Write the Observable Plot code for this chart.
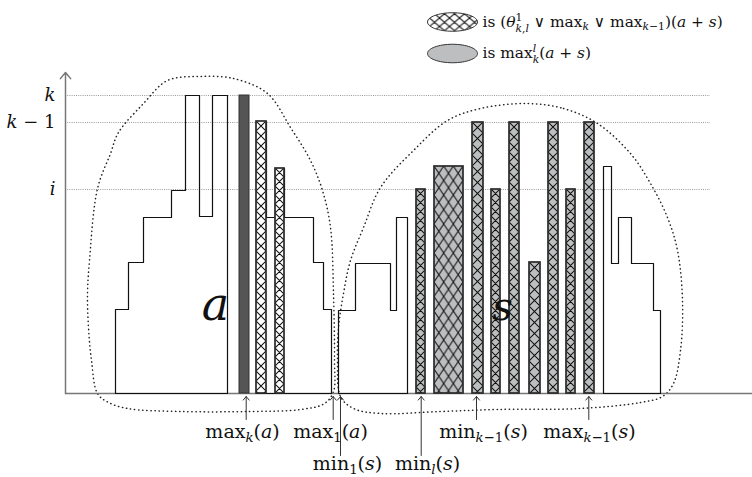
<!DOCTYPE html>
<html>
<head>
<meta charset="utf-8">
<script src="https://cdn.jsdelivr.net/npm/d3@7"></script>
<script src="https://cdn.jsdelivr.net/npm/@observablehq/plot@0.6"></script>
<style>
  html, body { margin: 0; padding: 0; background: #fff; }
  svg { display: block; }
</style>
</head>
<body>
<script>
// ---------- data (heights are measured above the baseline) ----------
const levelLabels = ["k", "k − 1", "i"];
const levelValues = [298, 271, 204];

// staircase outlines: start x of each step and the height of that step
const aLeftX  = [115, 128, 143, 171, 185, 199, 212, 227];
const aLeftH  = [84, 131, 176, 203, 298, 177, 298, 0];
const aRightX = [256, 266, 275, 284, 313, 323, 331];
const aRightH = [272, 176, 225, 176, 131, 84, 0];
const sLeftX  = [338, 355, 390, 396, 407];
const sLeftH  = [83, 130, 83, 176, 0];
const sRightX = [603, 611, 618, 631, 653, 660];
const sRightH = [227, 130, 176, 130, 83, 0];

// solid dark bar  (max_k(a))
const darkBarX1 = [239], darkBarX2 = [249], darkBarH = [298];

// cross-hatched white bars in a
const aBarX1 = [256, 275], aBarX2 = [266, 284], aBarH = [272, 225];

// cross-hatched grey bars in s
const sBarX1 = [416, 434, 472, 491, 509, 529, 548, 566, 584];
const sBarX2 = [425, 463, 483, 500, 519, 540, 558, 575, 594];
const sBarH  = [204, 227, 271, 204, 271, 131, 271, 204, 271];

// dotted regions (x, height)
const aCurveX = [200,233,267,290,310,322,330,333,334,333,324,300,250,180,127,108,97,91,88,87,89,97,110,118,143,167];
const aCurveH = [317,315,300,266,233,203,166,100,33,2,-10,-16,-18,-18,-15,-9,0,33,66,100,133,205,240,261,290,313];
const sCurveX = [527,563,597,630,650,667,677,682,680,673,662,640,580,497,440,380,353,340,337,338,343,350,363,380,413,447,480];
const sCurveH = [290,285,270,240,210,176,143,93,43,10,-3,-9,-15,-16,-18,-20,-15,-3,33,66,100,133,166,206,243,273,285];

// markers under the axis
const markerLabels = ["max_k(a)", "max_1(a)", "min_1(s)", "min_l(s)", "min_{k−1}(s)", "max_{k−1}(s)"];
const markerX      = [245.7, 332.7, 340, 420.7, 476, 588.3];
const markerRow    = [0, 0, 1, 1, 0, 0];
const markerTextX  = [242, 330, 347, 427, 483, 589];

// region names
const regionLabels = ["a", "s"];
const regionX = [215, 502];
const regionH = [88, 86];

// legend
const legendLabels = ["is (θ^1_{k,l} ∨ max_k ∨ max_{k−1})(a + s)", "is max^l_k(a + s)"];
const legendFills  = ["url(#lg-hatch)", "#bcbec0"];

// ---------- build tables ----------
const GREY = "#bcbec0";
function steps(name, X, H) {
  return [{name, x: X[0], h: 0}, ...X.map((x, i) => ({name, x, h: H[i]})), {name, x: X[0], h: 0}];
}
const outlines = [
  ...steps("aL", aLeftX, aLeftH), ...steps("aR", aRightX, aRightH),
  ...steps("sL", sLeftX, sLeftH), ...steps("sR", sRightX, sRightH)
];
const levels = levelLabels.map((label, i) => ({label, v: levelValues[i]}));
const darkBars = darkBarX1.map((x1, i) => ({x1, x2: darkBarX2[i], h: darkBarH[i]}));
const hatchBars = [
  ...aBarX1.map((x1, i) => ({x1, x2: aBarX2[i], h: aBarH[i], bg: "#fff"})),
  ...sBarX1.map((x1, i) => ({x1, x2: sBarX2[i], h: sBarH[i], bg: GREY}))
].map((d, i) => ({...d, id: "hb" + i}));
const curves = [
  ...aCurveX.map((x, i) => ({name: "a", x, h: aCurveH[i]})),
  ...sCurveX.map((x, i) => ({name: "s", x, h: sCurveH[i]}))
];
const markers = markerLabels.map((label, i) => ({label, x: markerX[i], row: markerRow[i], tx: markerTextX[i]}));
const regions = regionLabels.map((label, i) => ({label, x: regionX[i], h: regionH[i]}));
const legend = legendLabels.map((label, i) => ({label, fill: legendFills[i], row: i}));

const AXIS_X = 65, LINE_END = 710;
const tipH = -3, tailH = [-26, -62], textH = [-38, -70];
const legendH = [371.5, 340];

function ellipse(ratio) {
  return {
    draw(ctx, size) {
      const rx = Math.sqrt(size / Math.PI), ry = rx * ratio, k = 0.5523;
      ctx.moveTo(rx, 0);
      ctx.bezierCurveTo(rx, ry * k, rx * k, ry, 0, ry);
      ctx.bezierCurveTo(-rx * k, ry, -rx, ry * k, -rx, 0);
      ctx.bezierCurveTo(-rx, -ry * k, -rx * k, -ry, 0, -ry);
      ctx.bezierCurveTo(rx * k, -ry, rx, -ry * k, rx, 0);
      ctx.closePath();
    }
  };
}

const svg = Plot.plot({
  width: 752, height: 477,
  marginTop: 0, marginRight: 0, marginBottom: 84, marginLeft: 0,
  x: {domain: [0, 752], axis: null},
  y: {domain: [0, 393], axis: null},
  color: {type: "identity"},
  style: {fontFamily: "'DejaVu Serif', serif", fontSize: "19px", background: "#fff", color: "#000", overflow: "visible"},
  marks: [
    Plot.ruleY(levels, {y: "v", x1: () => AXIS_X, x2: () => LINE_END, stroke: "#9a9a9a", strokeDasharray: "1,1.2", strokeWidth: 1}),
    Plot.line(curves, {x: "x", y: "h", z: "name", curve: "catmull-rom-closed", stroke: "#222", strokeWidth: 1.5, strokeDasharray: "0.3,3.8", strokeLinecap: "round"}),
    Plot.ruleY([0], {x1: () => AXIS_X, x2: () => 752, stroke: "#777", strokeWidth: 1.5}),
    Plot.arrow([0], {x1: () => AXIS_X, x2: () => AXIS_X, y1: () => 0, y2: () => 321, stroke: "#777", strokeWidth: 1.5, headLength: 8, headAngle: 80}),
    Plot.line(outlines, {x: "x", y: "h", z: "name", curve: "step-after", stroke: "#111", strokeWidth: 1.2}),
    Plot.rect(darkBars, {x1: "x1", x2: "x2", y1: () => 0, y2: "h", fill: "#555", stroke: "#333", strokeWidth: 1}),
    Plot.rect(hatchBars, {x1: "x1", x2: "x2", y1: () => 0, y2: "h", fill: d => `url(#${d.id})`, stroke: "#2a2a2a", strokeWidth: 1.7}),
    Plot.arrow(markers, {x1: "x", x2: "x", y1: d => tailH[d.row], y2: () => tipH, stroke: "#333", strokeWidth: 1, headLength: 7, headAngle: 80}),
    Plot.text(markers, {x: "tx", y: d => textH[d.row], text: "label", fill: "#111"}),
    Plot.text(levels, {x: () => 55, y: "v", text: "label", textAnchor: "end", fontSize: 18, fill: "#111"}),
    Plot.text(regions.slice(0, 1), {x: "x", y: "h", text: "label", fontSize: 46, fontStyle: "italic", fill: "#111"}),
    Plot.text(regions.slice(1), {x: "x", y: "h", text: "label", fontSize: 40, fontStyle: "italic", fill: "#111"}),
    Plot.dot(legend, {x: () => 452, y: d => legendH[d.row], r: 25, symbol: ellipse(0.37), fill: "fill", stroke: "#333", strokeWidth: 1}),
    Plot.text(legend, {x: () => 482, y: d => legendH[d.row], text: "label", textAnchor: "start", fontSize: 15.4, fill: "#111"})
  ]
});
document.body.appendChild(svg);

// ---------- patterns ----------
const ns = "http://www.w3.org/2000/svg";
const sx = svg.scale("x"), sy = svg.scale("y");
const defs = document.createElementNS(ns, "defs");
svg.insertBefore(defs, svg.firstChild);
function addPattern(id, x, y, w, h, bg) {
  const p = document.createElementNS(ns, "pattern");
  p.setAttribute("id", id);
  p.setAttribute("patternUnits", "userSpaceOnUse");
  p.setAttribute("x", x); p.setAttribute("y", y);
  p.setAttribute("width", w); p.setAttribute("height", h);
  const r = document.createElementNS(ns, "rect");
  r.setAttribute("width", w); r.setAttribute("height", h); r.setAttribute("fill", bg);
  const path = document.createElementNS(ns, "path");
  path.setAttribute("d", `M0,0L${w},${h}M${w},0L0,${h}M-1,${h-1}L1,${h+1}M${w-1},-1L${w+1},1`);
  path.setAttribute("stroke", "#111"); path.setAttribute("stroke-width", 1.05); path.setAttribute("fill", "none");
  p.appendChild(r); p.appendChild(path);
  defs.appendChild(p);
}
hatchBars.forEach(d => {
  const x1 = sx.apply(d.x1), x2 = sx.apply(d.x2), top = sy.apply(d.h);
  const w = x2 - x1;
  if (w > 20) addPattern(d.id, x1, top, w / 3, 14.5, d.bg);
  else addPattern(d.id, x1, top, w, w, d.bg);
});
addPattern("lg-hatch", 427, 13, 10, 8.5, "#fff");

// ---------- math-style text ----------
function renderMath(el) {
  const src = el.textContent;
  if (!src) return;
  const fs = parseFloat(getComputedStyle(el).fontSize);
  el.textContent = "";
  el.style.whiteSpace = "pre";
  const segs = [];
  let i = 0, buf = "";
  const flush = () => { if (buf) segs.push({t: buf, lv: 0}); buf = ""; };
  while (i < src.length) {
    const c = src[i];
    if (c === "_" || c === "^") {
      flush();
      let t;
      if (src[i + 1] === "{") { const j = src.indexOf("}", i + 2); t = src.slice(i + 2, j); i = j + 1; }
      else { t = src[i + 1]; i += 2; }
      segs.push({t, lv: c === "^" ? 1 : -1});
    } else { buf += c; i++; }
  }
  flush();
  let cur = 0, prevSup = null;
  for (const s of segs) {
    const target = s.lv === 1 ? -0.4 * fs : s.lv === -1 ? (prevSup ? 0.3 : 0.22) * fs : 0;
    const parts = s.t.match(/[A-Za-zθ]+|[^A-Za-zθ]+/g) || [];
    const spans = [];
    parts.forEach((p, k) => {
      const ts = document.createElementNS(ns, "tspan");
      ts.textContent = p;
      if (/^[A-Za-zθ]$/.test(p)) ts.setAttribute("font-style", "italic");
      else if (/^[A-Za-zθ]+$/.test(p)) ts.setAttribute("font-style", "normal");
      if (s.lv) ts.setAttribute("font-size", (0.7 * fs).toFixed(2));
      if (k === 0) {
        const dy = target - cur;
        if (dy) ts.setAttribute("dy", dy.toFixed(2));
        if (s.lv === -1 && prevSup) ts.setAttribute("dx", (-prevSup).toFixed(2));
      }
      el.appendChild(ts); spans.push(ts);
    });
    cur = target;
    prevSup = s.lv === 1 ? spans.reduce((a, t) => a + t.getComputedTextLength(), 0) : null;
  }
}
svg.querySelectorAll("text").forEach(renderMath);
</script>
</body>
</html>
